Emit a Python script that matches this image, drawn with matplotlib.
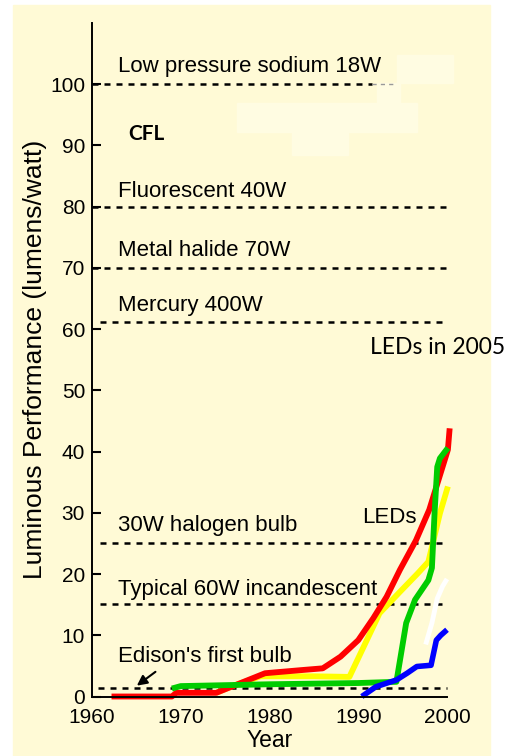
import matplotlib.pyplot as plt
from matplotlib.patches import Rectangle

# reference lamps (dashed lines)
ref_names = ["Low pressure sodium 18W", "Fluorescent 40W", "Metal halide 70W",
             "Mercury 400W", "30W halogen bulb", "Typical 60W incandescent",
             "Edison's first bulb"]
ref_levels = [100, 80, 70, 61.2, 25.1, 15.1, 1.4]
ref_start = [1960, 1960, 1960, 1960.9, 1960.9, 1960.9, 1960.7]
ref_end = [1991.6, 2000, 2000, 2000, 2000, 2000, 2000]
label_y = [102.9, 82.4, 72.9, 63.8, 28.0, 17.4, 6.5]

# LED curves
red_years = [1962.2, 1969.0, 1969.5, 1974.0, 1979.5, 1983.5, 1986.0, 1988.0, 1990.0,
             1991.7, 1993.2, 1994.7, 1996.5, 1998.0, 1999.5, 2000.1, 2000.3]
red_vals = [0.0, 0.0, 0.6, 0.6, 3.8, 4.3, 4.6, 6.5, 9.2,
            12.8, 16.3, 20.7, 25.5, 30.5, 37.5, 40.3, 43.8]

yellow_years = [1974.0, 1976.0, 1979.0, 1985.0, 1989.0, 1992.4, 1994.7, 1996.7,
                1997.9, 1999.2, 2000.1]
yellow_vals = [0.6, 1.8, 3.3, 3.3, 3.2, 13.6, 17.1, 20.1, 22.0, 29.9, 34.3]

green_years = [1969.0, 1970.0, 1980.0, 1990.0, 1994.3, 1995.4, 1996.4, 1997.9,
               1998.3, 1998.6, 1998.9, 1999.2, 2000.1]
green_vals = [1.3, 1.7, 2.0, 2.2, 2.4, 12.0, 15.8, 19.0, 21.0, 30.0, 37.5, 38.9, 40.6]

blue_years = [1990.4, 1992.0, 1994.3, 1995.5, 1996.6, 1998.2, 1998.8, 1999.3, 2000.0]
blue_vals = [0.0, 1.6, 2.7, 3.8, 4.9, 5.1, 9.2, 10.0, 10.9]

white_years = [1997.6, 1998.3, 1998.9, 1999.5, 2000.0]
white_vals = [8.5, 12.0, 16.0, 18.0, 19.2]

plt.rcParams['font.family'] = ['Liberation Sans', 'DejaVu Sans']

fig = plt.figure(figsize=(5.15, 7.56), dpi=100)
fig.patch.set_facecolor("white")
fig.patches.append(Rectangle((13 / 515, 0), 477 / 515, 751 / 756,
                             transform=fig.transFigure, color="#fffad6", zorder=-10))
# faint erased patches
for (x0, y0, x1, y1) in [(397, 55, 453, 83), (377, 83, 400, 103),
                         (237, 103, 417, 132), (292, 132, 348, 155)]:
    fig.patches.append(Rectangle((x0 / 515, 1 - y1 / 756), (x1 - x0) / 515, (y1 - y0) / 756,
                                 transform=fig.transFigure, color="#fffce2", zorder=-9))

ax = fig.add_axes([92 / 515, 59.5 / 756, 355 / 515, 673.5 / 756])
ax.set_facecolor("none")

for name, lvl, x0, x1, ly in zip(ref_names, ref_levels, ref_start, ref_end, label_y):
    ax.plot([x0, x1], [lvl, lvl], color="black", lw=1.8, dashes=(2.4, 2.4), clip_on=False)
    ax.text(1962.9, ly, name, fontsize=16, va="center", ha="left")
# lighter tail of the sodium line
ax.plot([1991.6, 1994.4], [100, 100], color="#999999", lw=1.0, dashes=(3, 3), clip_on=False)

ax.annotate("", xy=(1964.8, 1.5), xytext=(1967.4, 4.3),
            arrowprops=dict(arrowstyle="-|>", color="black", lw=1.5, mutation_scale=15))

ax.plot(yellow_years, yellow_vals, color="#ffff00", lw=4.2, clip_on=False, solid_capstyle="butt")
ax.plot(red_years, red_vals, color="#ff0000", lw=4.2, clip_on=False, solid_capstyle="butt")
ax.plot(green_years, green_vals, color="#00cc00", lw=4.2, clip_on=False, solid_capstyle="butt")
ax.plot(blue_years, blue_vals, color="#0000ff", lw=4.0, clip_on=False, solid_capstyle="butt")
ax.plot(white_years, white_vals, color="white", lw=3.5, clip_on=False, solid_capstyle="butt")

ax.text(1990.4, 29.3, "LEDs", fontsize=16, va="center", ha="left")
ax.text(1964.1, 91.9, "CFL", fontsize=15, fontweight="bold", family="Lato",
        va="center", ha="left")
ax.text(1991.3, 57.0, "LEDs in 2005", fontsize=16.5, family="Lato",
        va="center", ha="left", clip_on=False)

ax.set_xlim(1960, 2000)
ax.set_ylim(0, 110)
ax.set_xticks([1960, 1970, 1980, 1990, 2000])
ax.set_yticks(range(0, 101, 10))
ax.tick_params(axis="y", direction="in", length=6.5, width=1.5, labelsize=15, pad=5)
ax.tick_params(axis="x", length=0, labelsize=15, pad=8)
for s in ["top", "right"]:
    ax.spines[s].set_visible(False)
for s in ["left", "bottom"]:
    ax.spines[s].set_linewidth(1.4)

ax.set_xlabel("Year", fontsize=16.5, labelpad=2)
ax.set_ylabel("Luminous Performance (lumens/watt)", fontsize=19, labelpad=2)

fig.savefig("out.png", dpi=100)
